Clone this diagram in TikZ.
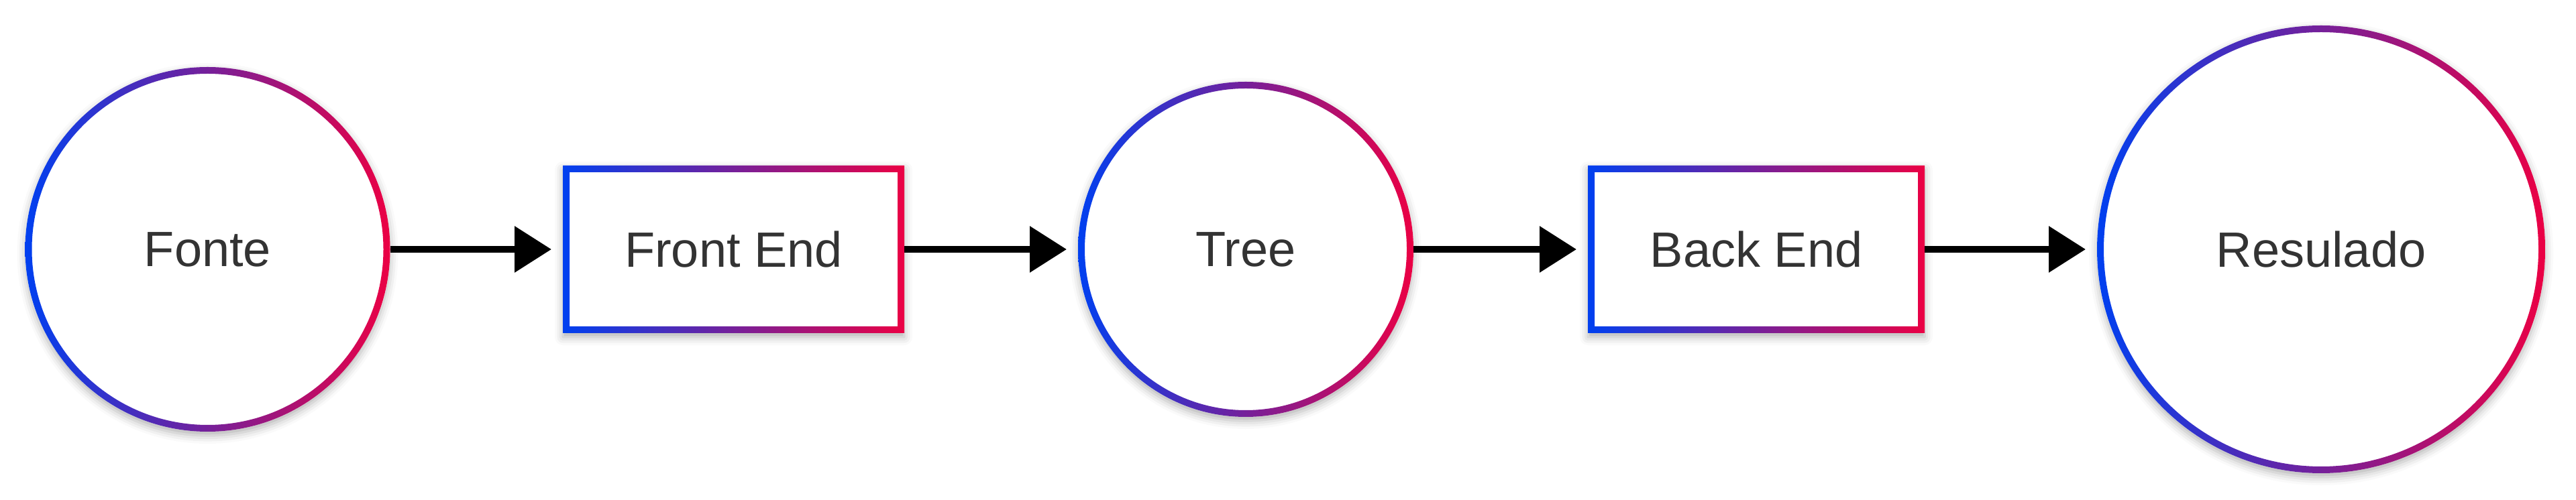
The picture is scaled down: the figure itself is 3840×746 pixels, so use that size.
\documentclass[tikz,border=0pt]{standalone}
\usepackage{fontspec}
\setmainfont{Liberation Sans}
\usetikzlibrary{arrows.meta,shadows.blur}
\definecolor{gblue}{RGB}{0,64,240}
\definecolor{gred}{RGB}{235,0,68}
\definecolor{txtgray}{HTML}{333333}
\tikzset{
  stage/.style={fill=white, text=txtgray, inner sep=0pt, outer sep=0pt,
    font=\fontsize{18.5pt}{22pt}\selectfont,
    blur shadow={shadow xshift=0pt, shadow yshift=-1.5pt, shadow blur radius=3pt, shadow opacity=30}},
  roundstage/.style={stage, circle, minimum size=#1},
  boxstage/.style={stage, rectangle, minimum width=#1, minimum height=62.5pt},
  gradring/.style={even odd rule, left color=gblue, right color=gred},
  flow/.style={line width=2.5pt, -{Triangle[length=13.75pt,width=16.75pt]}, shorten >=4.25pt}
}
\begin{document}
\begin{tikzpicture}[x=0.25pt,y=-0.25pt]
\useasboundingbox (0,0) rectangle (3840,746);
% stages
\node[roundstage=136pt] (fonte) at (309.5,372) {Fonte};
\node[boxstage=127.25pt] (front) at (1093.5,372) {Front End};
\node[roundstage=125pt] (tree) at (1857,372) {Tree};
\node[boxstage=125.5pt] (back) at (2618,372) {Back End};
\node[roundstage=167pt] (res) at (3460,372) {Resulado};
% gradient borders
\foreach \n/\r in {fonte/68pt,tree/62.5pt,res/83.5pt}
   \shade[gradring] (\n.center) circle[radius=\r] circle[radius=\r-2.5pt];
\foreach \n in {front,back}
   \shade[gradring] (\n.north west) rectangle (\n.south east)
      ([xshift=2.5pt,yshift=-2.5pt]\n.north west) rectangle ([xshift=-2.5pt,yshift=2.5pt]\n.south east);
% arrows
\draw[flow] (fonte.east) -- (front.west);
\draw[flow] (front.east) -- (tree.west);
\draw[flow] (tree.east) -- (back.west);
\draw[flow] (back.east) -- (res.west);
\end{tikzpicture}
\end{document}
